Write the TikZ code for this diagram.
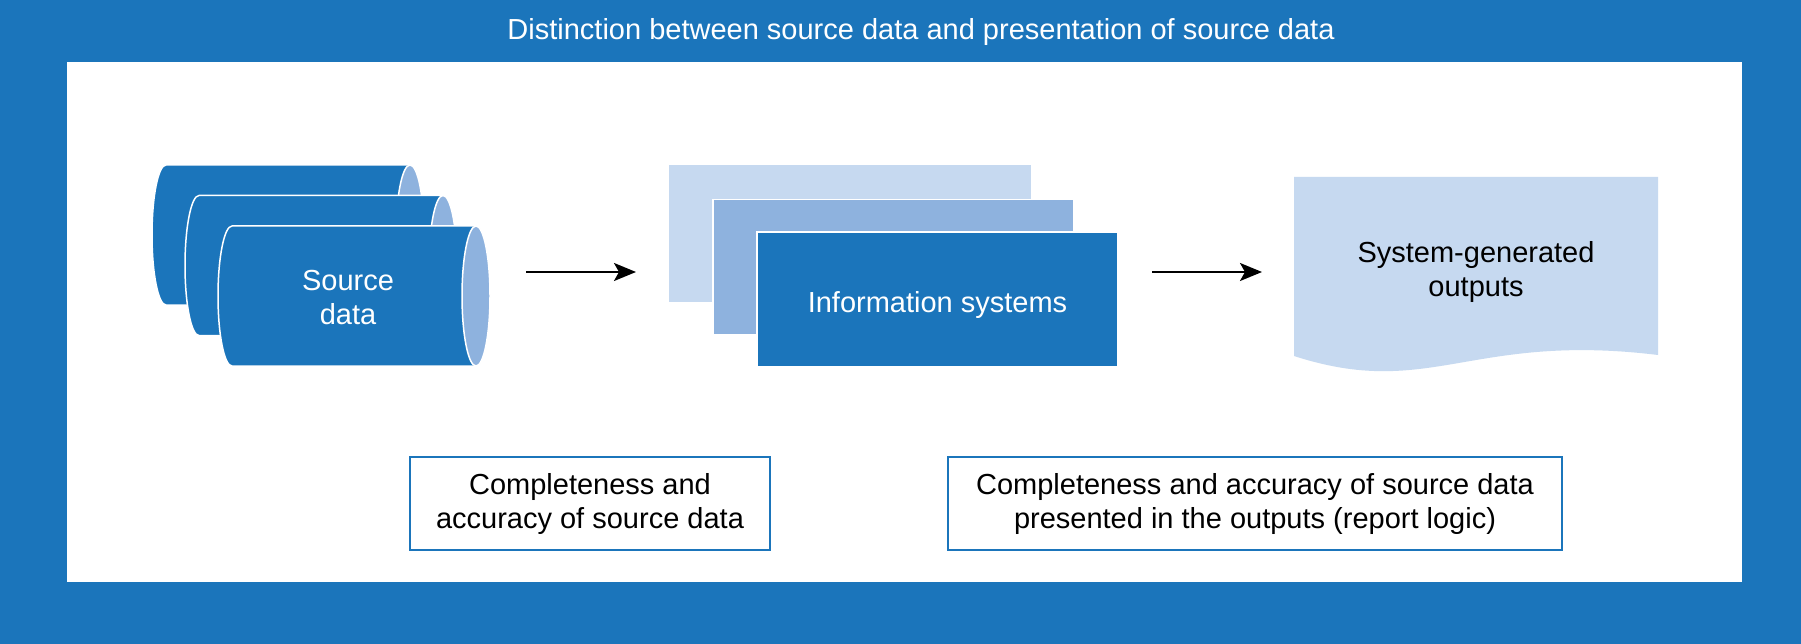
\documentclass[tikz,border=0pt]{standalone}
\usepackage{fontspec}
\setmainfont{Liberation Sans}
\usetikzlibrary{arrows.meta}
\definecolor{darkBlue}{RGB}{27,117,187}
\definecolor{midBlue}{RGB}{142,178,222}
\definecolor{paleBlue}{RGB}{198,217,240}
\tikzstyle{sheetStyle}=[shape = rectangle, minimum width = 361pt, minimum height = 135pt, inner sep = 0pt, draw = white, line width = 1.5pt]
\tikzstyle{noteStyle}=[shape = rectangle, minimum height = 93pt, inner sep = 0pt, align = center, draw = darkBlue, fill = white]
\tikzstyle{flowStyle}=[-{Stealth[length = 22pt, width = 18pt, inset = 5pt]}, line width = 2.2pt]

\begin{document}
\begin{tikzpicture}[x = 1pt, y = -1pt, font = \fontsize{29}{34}\selectfont]
\tikzstyle{whiteText}=[text = white, align = center]
% frame
\fill[darkBlue] (0,0) rectangle (1801,644);
\fill[white] (67,62) rectangle (1742,582);
\node[whiteText] (t0) at (921,32) {Distinction between source data and presentation of source data};
% source data drums
\foreach \L/\cy in {152/235, 185/265.5, 218/296}{
  \filldraw[fill = darkBlue, draw = white, line width = 1.5pt] ({\L+14},{\cy+70}) arc[start angle = 90, end angle = 270, x radius = 14, y radius = 70] -- ({\L+258},{\cy-70}) -- ({\L+258},{\cy+70}) -- cycle;
  \filldraw[fill = midBlue, draw = white, line width = 1.5pt] ({\L+258},\cy) ellipse [x radius = 14, y radius = 70];
}
\node[whiteText] (s0) at (348,298) {Source\\data};
% information systems
\node[sheetStyle, fill = paleBlue, draw = paleBlue] (i0) at (850,233.5) {};
\node[sheetStyle, fill = midBlue] (i1) at (893.5,267) {};
\node[sheetStyle, fill = darkBlue] (i2) at (937.5,299.5) {};
\node[whiteText] (i3) at (937.5,305) {Information systems};
% outputs
\fill[paleBlue] (1294,177) -- (1658,177) -- (1658,355) .. controls (1470,332) and (1430,400) .. (1294,356) -- cycle;
\node[align = center] (o0) at (1476,272) {System-generated\\outputs};
% arrows
\coordinate (a0) at (526,272);
\coordinate (a1) at (636,272);
\coordinate (a2) at (1152,272);
\coordinate (a3) at (1262,272);
\draw[flowStyle] (a0) -- (a1);
\draw[flowStyle] (a2) -- (a3);
% notes
\node[noteStyle, minimum width = 360pt, line width = 1.5pt] (n0) at (590,503.5) {Completeness and\\accuracy of source data};
\node[noteStyle, minimum width = 614pt, line width = 2.2pt] (n1) at (1255,503.5) {Completeness and accuracy of source data\\presented in the outputs (report logic)};
\end{tikzpicture}
\end{document}
